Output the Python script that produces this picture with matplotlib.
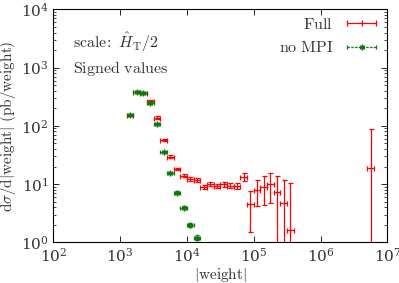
import numpy as np
import matplotlib.pyplot as plt
from matplotlib.lines import Line2D
from matplotlib.legend_handler import HandlerLine2D, HandlerTuple

# bin centres (|weight|), bins are 0.1 decades wide
weight_full = [1413, 1778, 2239, 2818, 3548, 4467, 5623, 7079, 8913, 11220,
               14125, 17783, 22387, 28184, 35481, 44668, 56234, 70795, 89125,
               112202, 141254, 177828, 223872, 281838, 354813, 5623413]
xsec_full = [155, 376, 370, 267, 138, 57, 29.5, 18.1, 13.9, 12.2,
             11.7, 9.0, 9.9, 9.4, 9.9, 9.4, 9.3, 13.4, 4.5,
             7.9, 9.0, 10.0, 7.2, 4.7, 1.63, 18.6]
err_full = [6, 15, 15, 12, 7, 3, 1.6, 1.0, 0.8, 0.8,
            0.8, 0.7, 0.8, 0.8, 0.9, 0.9, 1.0, 2.2, 3.0,
            3.7, 4.6, 5.3, 6.5, 7.0, 8.7, 68]

weight_nompi = [1413, 1778, 2239, 2818, 3548, 4467, 5623, 7079, 8913, 11220, 14125]
xsec_nompi = [155, 376, 366, 249, 107, 35.5, 15.3, 7.1, 3.93, 1.98, 1.2]
err_nompi = [6, 14, 14, 10, 4, 1.5, 0.7, 0.4, 0.25, 0.15, 0.12]

half_bin = 10 ** 0.05


def xerr(w):
    w = np.asarray(w, dtype=float)
    return [w - w / half_bin, w * half_bin - w]


def main():
    plt.rcParams['mathtext.fontset'] = 'cm'
    plt.rcParams['font.family'] = 'serif'
    plt.rcParams['font.serif'] = ['DejaVu Serif']
    tc = '#333333'

    fig = plt.figure(figsize=(3.99, 2.83), dpi=100)
    ax = fig.add_axes([0.1336, 0.1438, 0.8371, 0.8232])

    red = '#ff0000'
    green = '#0a7a0a'
    ax.errorbar(weight_full, xsec_full, xerr=xerr(weight_full), yerr=err_full,
                fmt='none', ecolor=red, elinewidth=0.9, capsize=1.8,
                capthick=0.9, zorder=2)
    ax.errorbar(weight_nompi, xsec_nompi, xerr=xerr(weight_nompi), yerr=err_nompi,
                fmt='none', ecolor=green, elinewidth=0.9, capsize=1.5,
                capthick=0.9, zorder=3)
    ax.plot(weight_nompi, xsec_nompi, ls='none', marker=(6, 2, 0), ms=4,
            mew=1.0, color=green, zorder=4)

    ax.set_xscale('log')
    ax.set_yscale('log')
    ax.set_xlim(1e2, 1e7)
    ax.set_ylim(1e0, 1e4)
    ax.tick_params(which='both', direction='in', top=True, right=True,
                   labelsize=11, labelcolor=tc)
    ax.tick_params(which='major', length=4, width=0.6)
    ax.tick_params(which='minor', length=2, width=0.5)
    ax.xaxis.set_minor_locator(plt.NullLocator())
    for s in ax.spines.values():
        s.set_linewidth(0.8)

    ax.set_xlabel(r'$|\mathrm{weight}|$', fontsize=11, color=tc, labelpad=1)
    ax.set_ylabel(r'$\mathrm{d}\sigma/\mathrm{d}|\mathrm{weight}|\ (\mathrm{pb/weight})$',
                  fontsize=11, color=tc, labelpad=2)

    ax.text(0.058, 0.86, r'$\mathrm{scale\!:}\ \hat{H}_\mathrm{T}/2$',
            transform=ax.transAxes, fontsize=11.5, color=tc, va='center')
    ax.text(0.058, 0.748, r'$\mathrm{Signed\ values}$',
            transform=ax.transAxes, fontsize=11.5, color=tc, va='center')

    h_full = Line2D([], [], color=red, lw=0.9, marker='|', ms=4, mew=0.9)
    h_nompi_l = Line2D([], [], color=green, lw=0.9, ls=(0, (2, 1)),
                       marker='|', ms=3, mew=0.9)
    h_nompi_m = Line2D([], [], color=green, ls='none', marker=(6, 2, 0),
                       ms=4, mew=1.0)
    ax.legend([h_full, (h_nompi_l, h_nompi_m)],
              [r'$\mathrm{Full}$', r'$\mathrm{no\ MPI}$'],
              loc='upper right', frameon=False, markerfirst=False,
              numpoints=3, fontsize=11.5, handlelength=2.4,
              handletextpad=0.6, labelspacing=0.4,
              borderaxespad=0.1, borderpad=0.3, labelcolor=tc,
              handler_map={h_nompi_m: HandlerLine2D(numpoints=1),
                           tuple: HandlerTuple(ndivide=1)})

    fig.savefig('out.png', dpi=100)


if __name__ == '__main__':
    main()
